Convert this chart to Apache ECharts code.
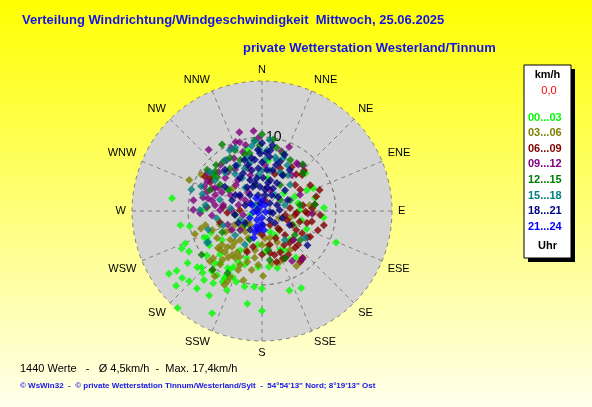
<!DOCTYPE html>
<html>
<head>
<meta charset="utf-8">
<title>Windrichtung/Windgeschwindigkeit</title>
<script src="https://cdn.jsdelivr.net/npm/echarts@6/dist/echarts.min.js"></script>
<style>
  html, body { margin: 0; padding: 0; }
  #main { width: 592px; height: 407px; }
</style>
</head>
<body>
<div id="main"></div>
<script>
// Richtungen (16 Sektoren) und Zeitgruppen
var directions = ['N', 'NNE', 'NE', 'ENE', 'E', 'ESE', 'SE', 'SSE', 'S', 'SSW', 'SW', 'WSW', 'W', 'WNW', 'NW', 'NNW'];
var hourGroups = ['00...03', '03...06', '06...09', '09...12', '12...15', '15...18', '18...21', '21...24'];
var speedMax = 17.6;
var speedRing = 10;

// Messwerte je Zeitgruppe: [km/h, Richtung in Grad]
var h0003 = [[11.2,260],[10.0,258],[12.0,245],[11.3,247],[11.3,241],[12.3,235],[14.1,235],[15.2,236],[14.1,230],[13.7,226],
  [15.4,229],[13.7,220],[13.5,212],[17.4,221],[15.4,206],[12.7,189],[10.5,180],[10.3,186],[13.5,180],[11.4,161],
  [11.7,153],[10.9,113],[8.4,96],[11.6,229],[11.6,224],[12.2,220],[10.6,220],[9.5,222],[9.0,219],[10.2,209],
  [9.8,204],[11.0,209],[10.2,200],[9.1,209],[8.3,244],[7.5,247],[12.3,278],[8.0,304],[8.6,346],[7.8,49],
  [7.6,66],[6.7,65],[8.4,87],[7.4,76],[4.9,66],[5.0,78],[3.8,51],[6.5,112],[5.5,103],[4.7,114],
  [3.4,138],[5.6,176],[8.0,165],[7.6,173],[3.7,152],[8.6,245],[8.5,237],[9.6,231],[8.2,224],[9.0,211],
  [11.2,227],[10.6,215],[10.5,209],[11.7,204],[11.8,214],[7.6,184],[6.7,198],[7.6,198],[7.6,205],[8.5,207],
  [10.5,193],[7.4,274],[8.0,271],[5.3,303],[4.5,10],[5.4,136],[5.8,155],[3.9,229],[6.7,234],
  [1.7,252],[3.0,159],[6.1,150],[7.8,144],[4.6,187],[6.1,209],[5.1,89],[6.9,7]];
var h0306 = [[8.6,254],[7.1,239],[7.8,230],[7.1,230],[7.5,222],[7.8,216],[6.8,224],[6.3,220],[5.6,221],[6.5,211],
  [6.9,206],[7.3,210],[10.9,216],[10.6,206],[9.9,206],[3.6,219],[4.1,207],[3.5,230],[5.0,239],[10.4,220],
  [8.5,219],[9.6,251],[6.0,252],[9.8,226],[7.2,196],[8.8,179],[7.7,227],[7.2,214],[8.8,148],[8.5,141],
  [7.2,169],[4.7,154],[3.7,174],[2.5,112],[3.9,104],[10.7,293],[9.6,301],[6.5,83],[5.7,31],[7.0,92],
  [5.0,308],[2.5,221],[2.9,191],[4.7,170],[5.4,190],[7.9,202],[8.1,190],[5.7,240],[7.2,249],
  [4.9,217],[5.8,228],[5.7,202],[6.4,189],[8.6,202],[9.2,218],[4.1,243],[2.4,232],[4.6,180],[3.8,164],
  [11.2,207],[9.7,195],[9.2,226],[7.9,256],[6.5,144],[7.3,161],[7.3,184]];
var h0609 = [[5.6,82],[5.9,91],[6.9,102],[6.3,105],[6.2,119],[7.1,120],[5.7,133],[5.7,139],[6.7,138],[6.1,156],
  [7.0,156],[7.2,164],[8.4,139],[5.8,169],[7.2,83],[6.2,93],[4.7,93],[3.6,110],[3.5,137],[5.0,194],
  [5.9,200],[4.7,267],[5.9,255],[7.2,34],[6.8,43],[7.9,46],[7.6,75],[5.3,19],[7.3,48],[6.3,23],
  [5.3,276],[7.4,118],[4.5,97],[5.5,147],[6.2,164],[7.1,154],[8.3,302],[8.0,299],[9.0,301],[2.2,150],
  [3.2,180],[4.1,153],[4.5,115],[1.5,15],[3.0,272],[5.9,61],[7.4,62],[8.6,103],
  [3.2,100],[5.3,106],[8.0,109],[5.3,119],[4.5,136],[4.7,167],[6.9,149],[6.7,133],[6.8,87],[7.9,94],
  [3.8,84],[8.6,143],[5.9,180],[8.3,70],[5.7,52],[3.2,137]];
var h0912 = [[11.1,344],[10.9,354],[10.0,339],[9.8,342],[9.5,334],[11.0,319],[8.4,342],[8.1,332],[7.0,319],[6.7,327],
  [6.1,342],[6.7,298],[6.0,295],[7.1,296],[5.3,322],[7.9,289],[7.5,283],[3.2,324],[3.5,303],[4.1,272],
  [6.4,277],[5.3,279],[9.4,23],[8.5,18],[8.3,42],[8.0,36],[8.5,293],[7.4,294],[9.4,279],[8.2,283],
  [7.5,274],[9.0,305],[8.4,298],[9.3,271],[6.8,265],[7.9,149],[8.5,140],[6.8,93],[5.8,132],[2.4,193],
  [8.0,38],[5.1,342],[6.2,4],[2.7,303],[3.0,21],[8.4,318],[8.4,325],[3.9,229],[4.8,238],
  [6.7,312],[6.7,289],[4.8,297],[3.3,284],[5.7,271],[6.9,282],[9.2,346],[9.9,357],[5.0,315],[2.6,258],
  [5.0,248],[5.6,67],[6.3,40],[8.4,268],[7.9,312]];
var h1215 = [[10.5,329],[8.5,322],[8.8,315],[8.3,310],[8.0,343],[8.0,348],[9.6,354],[10.4,0],[9.8,9],[7.6,47],
  [8.4,329],[9.3,307],[8.3,307],[7.6,307],[7.2,323],[8.8,13],[8.3,20],[8.4,41],[10.1,234],[9.6,209],
  [7.1,154],[10.4,220],[7.2,83],[7.5,337],[3.6,345],[4.3,35],[4.1,69],[3.7,262],[4.2,203],[6.7,171],
  [5.4,302],[6.5,127],
  [9.0,336],[8.9,358],[7.9,29],[6.7,302],[7.6,292],[3.0,231],[5.3,171],[5.5,126],[6.1,242],[2.9,59],[5.2,81]];
var h1518 = [[9.3,337],[9.5,354],[7.4,344],[8.8,307],[8.4,286],[7.2,316],[5.2,329],[6.7,346],[7.0,332],[10.0,287],
  [8.9,292],[7.2,16],[7.1,29],[5.6,29],[8.9,351],[7.7,22],[6.0,36],[6.2,324],[6.9,3],[8.3,5],
  [7.5,14],[6.9,122],[7.7,251],[6.2,261],[4.3,275],[8.4,240],[5.6,250],[8.4,271],[8.6,240],[4.9,354],
  [5.6,11],[3.9,324],[2.8,39],[3.2,75],[3.2,248],[8.2,358],[9.3,332],
  [6.2,338],[5.5,0],[5.8,25],[8.5,324],[7.6,303],[7.7,276],[5.9,285],[1.2,311],[9.7,6],[5.2,47],
  [4.9,228],[5.1,207],[5.0,142]];
var h1821 = [[9.2,0],[7.9,4],[7.8,358],[7.0,352],[7.4,8],[5.7,333],[5.7,346],[5.8,355],[5.6,7],[5.7,15],
  [4.5,339],[4.5,351],[4.5,2],[4.3,15],[4.3,28],[3.8,328],[3.5,339],[3.3,355],[3.3,12],[3.4,26],
  [2.7,323],[2.2,346],[2.2,11],[2.5,32],[2.9,49],[1.9,304],[1.1,346],[1.5,45],[2.2,68],[0.7,281],
  [1.1,97],[7.5,318],[6.0,303],[1.5,100],[1.6,138],[1.9,176],[2.4,133],[2.8,235],[3.0,212],[7.7,127],
  [3.6,243],[3.7,262],[2.9,109],[9.0,9],[8.3,8],[7.3,341],[7.1,20],[4.2,48],[3.7,306],[4.3,290],
  [6.5,343],[6.6,0],[6.5,17],[5.4,326],[5.6,30],[3.9,346],[3.9,12],[2.4,289],[2.4,87],[2.9,8],
  [7.3,349],[8.2,22],[7.1,330],[6.7,34],[8.3,356],[3.8,67],[4.2,301],[4.2,117]];
var h2124 = [[0.6,333],[0.6,243],[1.4,209],[2.3,201],[3.0,198],[3.8,197],[1.8,184],[0.9,180],[2.6,189],[1.2,264],
  [0.9,27],[1.5,0],[1.6,301],[0.5,104],[1.9,240],[2.6,174],[1.9,335]];

var groupData = [h0003, h0306, h0609, h0912, h1215, h1518, h1821, h2124];
var groupColors = ['#00ff00', '#808000', '#800000', '#800080', '#008000', '#008080', '#000080', '#0000ff'];

var statsText = '1440 Werte   -   \u00d8 4,5km/h  -  Max. 17,4km/h';
var footText = '\u00a9 WsWin32  -  \u00a9 private Wetterstation Tinnum/Westerland/Sylt  -  54\u00b054\'13" Nord; 8\u00b019\'13" Ost';

var font = 'Arial, "Liberation Sans", sans-serif';
var roseRadius = 130;
var gridLine = { color: '#808080', type: [4, 4], width: 1 };

function getChart() {
    var myChart = echarts.init(document.getElementById('main'));

    var series = hourGroups.map(function (name, i) {
        return {
            name: name,
            type: 'scatter',
            coordinateSystem: 'polar',
            polarIndex: 1,
            symbol: 'diamond',
            symbolSize: 8,
            itemStyle: { color: groupColors[i] },
            data: groupData[i]
        };
    });

    var legendData = hourGroups.map(function (name, i) {
        return { name: name, textStyle: { color: groupColors[i] } };
    });

    option = {
        animation: false,
        backgroundColor: {
            type: 'linear', x: 0, y: 0, x2: 0, y2: 1,
            colorStops: [
                { offset: 0, color: '#ffff00' },
                { offset: 1, color: '#ffffec' }
            ]
        },
        title: [
            {
                text: 'Verteilung Windrichtung/Windgeschwindigkeit  Mittwoch, 25.06.2025',
                left: 22, top: 14, padding: 0,
                textStyle: { color: '#1414e6', fontSize: 13, fontWeight: 'bold', fontFamily: font }
            },
            {
                text: 'private Wetterstation Westerland/Tinnum',
                left: 243, top: 42, padding: 0,
                textStyle: { color: '#1414e6', fontSize: 13, fontWeight: 'bold', fontFamily: font }
            },
            {
                text: statsText,
                left: 20, top: 363, padding: 0,
                textStyle: { color: '#000', fontSize: 11, fontWeight: 'normal', fontFamily: font }
            },
            {
                text: footText,
                left: 20, top: 382, padding: 0,
                textStyle: { color: '#1414e6', fontSize: 8, fontWeight: 'bold', fontFamily: font }
            }
        ],
        // polar 0: grauer Hintergrund, polar 1: Windrose mit Punkten, polar 2: Ring bei 10 km/h
        polar: [
            { center: [262, 211], radius: roseRadius },
            { center: [262, 211], radius: roseRadius },
            { center: [262, 211], radius: roseRadius * speedRing / speedMax }
        ],
        angleAxis: [
            {
                polarIndex: 0, type: 'value', min: 0, max: 360,
                axisLine: { show: false }, axisTick: { show: false }, axisLabel: { show: false },
                splitLine: { show: false }
            },
            {
                polarIndex: 1, type: 'value',
                min: 0, max: 360, interval: 22.5,
                startAngle: 90, clockwise: true,
                axisLine: { show: false },
                axisTick: { show: false },
                axisLabel: {
                    margin: 6, color: '#000', fontSize: 11, fontFamily: font,
                    formatter: function (v) { return directions[Math.round(v / 22.5) % 16]; }
                },
                splitLine: { show: true, lineStyle: gridLine }
            },
            {
                polarIndex: 2, type: 'value', min: 0, max: 360,
                axisLine: { show: true, lineStyle: gridLine },
                axisTick: { show: false }, axisLabel: { show: false },
                splitLine: { show: false }
            }
        ],
        radiusAxis: [
            {
                polarIndex: 0, type: 'value', min: 0, max: 1,
                axisLine: { show: false }, axisTick: { show: false }, axisLabel: { show: false },
                splitLine: { show: false },
                splitArea: { show: true, areaStyle: { color: ['#d3d3d3'], opacity: 1 } }
            },
            {
                polarIndex: 1, type: 'value',
                min: 0, max: speedMax, interval: speedRing,
                axisLine: { show: false },
                axisTick: { show: false },
                axisLabel: {
                    color: '#000', fontSize: 14, fontFamily: font, margin: -4, align: 'left',
                    formatter: function (v) { return v === speedRing ? String(speedRing) : ''; }
                },
                splitLine: { show: true, lineStyle: gridLine }
            },
            {
                polarIndex: 2, type: 'value', min: 0, max: speedRing,
                axisLine: { show: false }, axisTick: { show: false }, axisLabel: { show: false },
                splitLine: { show: false }
            }
        ],
        legend: {
            orient: 'vertical',
            left: 523, top: 112,
            padding: 0,
            itemWidth: 0, itemHeight: 11, itemGap: 4.6,
            icon: 'none',
            selectedMode: false,
            textStyle: { fontSize: 11, fontWeight: 'bold', fontFamily: font, lineHeight: 11 },
            data: legendData
        },
        graphic: [
            { type: 'rect', shape: { x: 528, y: 69, width: 47, height: 193 }, style: { fill: '#000' }, z: 1 },
            { type: 'rect', shape: { x: 524, y: 65, width: 47, height: 193 }, style: { fill: '#fff', stroke: '#000', lineWidth: 1 }, z: 2 },
            { type: 'text', x: 547.5, y: 75, style: { text: 'km/h', fill: '#000', font: 'bold 11px ' + font, textAlign: 'center', textVerticalAlign: 'middle' }, z: 3 },
            { type: 'text', x: 549, y: 91, style: { text: '0,0', fill: '#ff0000', font: '11px ' + font, textAlign: 'center', textVerticalAlign: 'middle' }, z: 3 },
            { type: 'text', x: 547.5, y: 246, style: { text: 'Uhr', fill: '#000', font: 'bold 11px ' + font, textAlign: 'center', textVerticalAlign: 'middle' }, z: 3 }
        ],
        series: series
    };

    myChart.setOption(option, true);
}

getChart();
</script>
</body>
</html>
